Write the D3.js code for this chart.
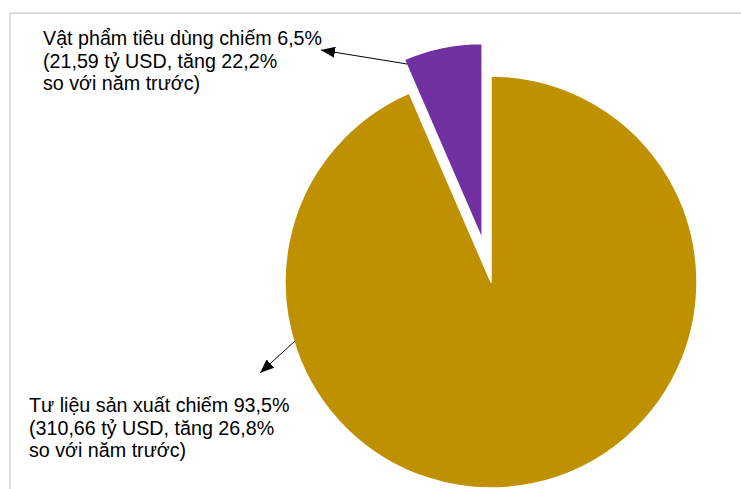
<!DOCTYPE html>
<html>
<head>
<meta charset="utf-8">
<script src="https://cdn.jsdelivr.net/npm/d3@7"></script>
<style>
  body { margin: 0; background: #fff; }
  text { font-family: "Liberation Sans", Arial, sans-serif; fill: #000; }
</style>
</head>
<body>
<div id="chart"></div>
<script>
// co cau nhap khau - 2 nhom hang

var groups = ["Tư liệu sản xuất", "Vật phẩm tiêu dùng"];
var shares = [93.5, 6.5];           // % of total
var colors = ["#BF9000", "#7030A0"];
var exploded = [false, true];

var labelLines = [
    ["Tư liệu sản xuất chiếm 93,5%", "(310,66 tỷ USD, tăng 26,8%", "so với năm trước)"],
    ["Vật phẩm tiêu dùng chiếm 6,5%", "(21,59 tỷ USD, tăng 22,2%", "so với năm trước)"]
];

var width = 741, height = 489;
var cx = 491, cy = 282;
var radius = 206;
var explodeRadius = 196, explodeDist = 43.5;

var svg = d3.select("#chart")
    .append("svg")
    .attr("width", width)
    .attr("height", height);

// frame (only top & left edge visible in the crop)
svg.append("line")
    .attr("x1", 10).attr("y1", 13).attr("x2", width).attr("y2", 13)
    .attr("stroke", "#d9d9d9").attr("stroke-width", 1.75);
svg.append("line")
    .attr("x1", 10).attr("y1", 13).attr("x2", 10).attr("y2", height)
    .attr("stroke", "#d9d9d9").attr("stroke-width", 1.75);

var pie = d3.pie().sort(null).value(function (d) { return d; });
var arcs = pie(shares);

var arcBig = d3.arc().innerRadius(0).outerRadius(radius);
var arcSmall = d3.arc().innerRadius(0).outerRadius(explodeRadius);

var g = svg.append("g")
    .attr("transform", "translate(" + cx + "," + cy + ")");

g.selectAll("path")
    .data(arcs)
    .enter()
    .append("path")
    .attr("transform", function (d, i) {
        if (!exploded[i]) return null;
        var mid = (d.startAngle + d.endAngle) / 2;
        return "translate(" + (Math.sin(mid) * explodeDist) + "," + (-Math.cos(mid) * explodeDist) + ")";
    })
    .attr("d", function (d, i) { return exploded[i] ? arcSmall(d) : arcBig(d); })
    .attr("fill", function (d, i) { return colors[i]; })
    .attr("stroke", "#fff")
    .attr("stroke-width", 1.5)
    .attr("stroke-linejoin", "round");

// arrow heads
svg.append("defs").append("marker")
    .attr("id", "arr")
    .attr("viewBox", "0 0 14 11")
    .attr("refX", 14).attr("refY", 5.5)
    .attr("markerWidth", 14).attr("markerHeight", 11)
    .attr("markerUnits", "userSpaceOnUse")
    .attr("orient", "auto")
    .append("path")
    .attr("d", "M0,0 L14,5.5 L0,11 Z")
    .attr("fill", "#000");

var arrows = [
    {x1: 295, y1: 341, x2: 260, y2: 373},
    {x1: 407, y1: 64, x2: 321, y2: 50}
];

svg.selectAll(".arrow")
    .data(arrows)
    .enter()
    .append("line")
    .attr("class", "arrow")
    .attr("x1", function (d) { return d.x1; })
    .attr("y1", function (d) { return d.y1; })
    .attr("x2", function (d) { return d.x2; })
    .attr("y2", function (d) { return d.y2; })
    .attr("stroke", "#000")
    .attr("stroke-width", 1)
    .attr("marker-end", "url(#arr)");

// labels
var labelPos = [{x: 29, y: 412}, {x: 43, y: 45}];
var lineH = 22.6;

labelLines.forEach(function (lines, i) {
    var t = svg.append("text")
        .attr("x", labelPos[i].x)
        .attr("y", labelPos[i].y)
        .style("font-size", "19.7px");
    lines.forEach(function (s, j) {
        t.append("tspan")
            .attr("x", labelPos[i].x)
            .attr("dy", j === 0 ? 0 : lineH)
            .text(s);
    });
});
</script>
</body>
</html>
